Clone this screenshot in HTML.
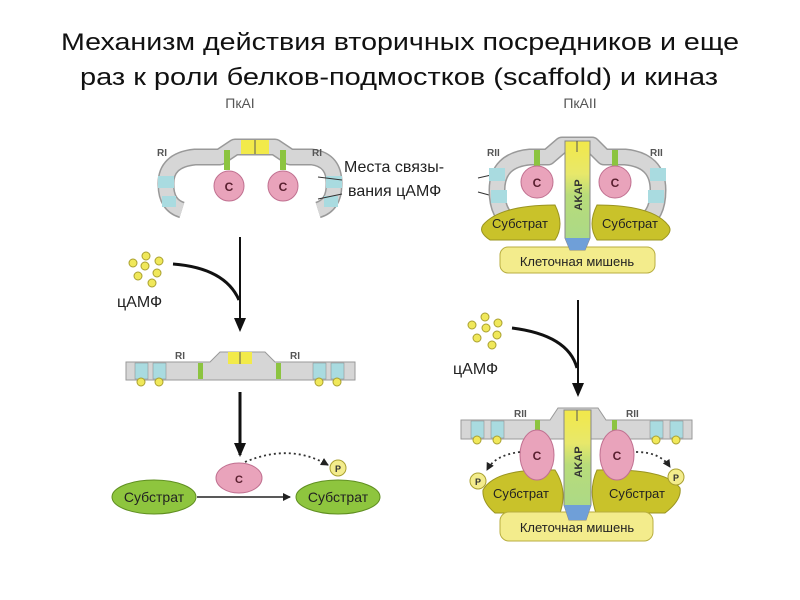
<!DOCTYPE html>
<html><head><meta charset="utf-8"><style>
html,body{margin:0;padding:0;background:#fff;}
svg{display:block;}
</style></head><body>
<svg width="800" height="600" viewBox="0 0 800 600" xmlns="http://www.w3.org/2000/svg" font-family="Liberation Sans, sans-serif">
<defs>
<marker id="ah" markerWidth="14" markerHeight="12" refX="12" refY="6" orient="auto" markerUnits="userSpaceOnUse"><path d="M0,0 L14,6 L0,12 z" fill="#111"/></marker>
<marker id="ah2" markerWidth="8" markerHeight="8" refX="7" refY="4" orient="auto" markerUnits="userSpaceOnUse"><path d="M0,0 L8,4 L0,8 z" fill="#222"/></marker>
<linearGradient id="ak" x1="0" y1="0" x2="0" y2="1"><stop offset="0" stop-color="#f2e84a"/><stop offset="0.3" stop-color="#e8e86a"/><stop offset="0.5" stop-color="#b8dc7a"/><stop offset="1" stop-color="#a8d88a"/></linearGradient>
</defs>

<text x="400" y="50" text-anchor="middle" font-size="24" textLength="678" lengthAdjust="spacingAndGlyphs" fill="#111">Механизм действия вторичных посредников и еще</text>
<text x="399" y="85" text-anchor="middle" font-size="24" textLength="638" lengthAdjust="spacingAndGlyphs" fill="#111">раз к роли белков-подмостков (scaffold)  и киназ</text>
<text x="240" y="108" text-anchor="middle" font-size="14" fill="#555">ПкАI</text>
<text x="580" y="108" text-anchor="middle" font-size="14" fill="#555">ПкАII</text>

<!-- PKA I top -->
<g>
<path d="M182,210 Q166,205 166,185 Q165,160 195,157 L220,157 L235,147 L275,147 L290,157 L312,157 Q335,160 334,185 Q334,205 318,210" fill="none" stroke="#999" stroke-width="17" stroke-linejoin="round"/>
<path d="M182,210 Q166,205 166,185 Q165,160 195,157 L220,157 L235,147 L275,147 L290,157 L312,157 Q335,160 334,185 Q334,205 318,210" fill="none" stroke="#d6d6d6" stroke-width="14" stroke-linejoin="round"/>
<rect x="158" y="176" width="16" height="12" fill="#a9dbe0"/><rect x="162" y="196" width="14" height="11" fill="#a9dbe0"/>
<rect x="326" y="176" width="16" height="12" fill="#a9dbe0"/><rect x="324" y="196" width="14" height="11" fill="#a9dbe0"/>
<rect x="241" y="140" width="28" height="14" fill="#f2ea4a"/><line x1="255" y1="140" x2="255" y2="154" stroke="#555"/>
<rect x="224" y="150" width="6" height="20" fill="#8cc440"/><rect x="280" y="150" width="6" height="20" fill="#8cc440"/>
<circle cx="229" cy="186" r="15" fill="#e9a3bb" stroke="#c07090"/><text x="229" y="191" text-anchor="middle" font-size="12" font-weight="bold" fill="#5a2030">C</text>
<circle cx="283" cy="186" r="15" fill="#e9a3bb" stroke="#c07090"/><text x="283" y="191" text-anchor="middle" font-size="12" font-weight="bold" fill="#5a2030">C</text>
<text x="157" y="156" font-size="10" font-weight="bold" fill="#555">RI</text>
<text x="312" y="156" font-size="10" font-weight="bold" fill="#555">RI</text>
</g>
<text x="344" y="172" font-size="16" fill="#222">Места связы-</text>
<text x="348" y="196" font-size="16" fill="#222">вания цАМФ</text>
<line x1="342" y1="180" x2="318" y2="177" stroke="#333"/><line x1="342" y1="194" x2="318" y2="199" stroke="#333"/>
<line x1="478" y1="178" x2="500" y2="173" stroke="#333"/><line x1="478" y1="192" x2="500" y2="198" stroke="#333"/>

<!-- PKA II top -->
<g>
<path d="M512,222 Q497,215 497,190 Q497,160 530,157 L548,157 L562,145 L592,145 L604,157 L625,157 Q658,160 658,190 Q658,215 643,222" fill="none" stroke="#999" stroke-width="17" stroke-linejoin="round"/>
<path d="M512,222 Q497,215 497,190 Q497,160 530,157 L548,157 L562,145 L592,145 L604,157 L625,157 Q658,160 658,190 Q658,215 643,222" fill="none" stroke="#d6d6d6" stroke-width="14" stroke-linejoin="round"/>
<rect x="489" y="168" width="16" height="13" fill="#a9dbe0"/><rect x="491" y="190" width="16" height="13" fill="#a9dbe0"/>
<rect x="650" y="168" width="16" height="13" fill="#a9dbe0"/><rect x="648" y="190" width="16" height="13" fill="#a9dbe0"/>
<path d="M483,225 Q500,205 555,205 Q565,225 555,240 L490,240 Q478,232 483,225 z" fill="#c9c22a" stroke="#9a9420"/>
<path d="M668,225 Q652,205 597,205 Q587,225 597,240 L662,240 Q674,232 668,225 z" fill="#c9c22a" stroke="#9a9420"/>
<rect x="500" y="247" width="155" height="26" rx="8" fill="#f3ec8c" stroke="#b8ae40"/>
<text x="577" y="266" text-anchor="middle" font-size="13" fill="#222">Клеточная мишень</text>
<path d="M565,141 L590,141 L590,238 L585,250 L570,250 L565,238 z" fill="url(#ak)" stroke="#888"/>
<path d="M565,238 L590,238 L585,250 L570,250 z" fill="#6f9fd8"/>
<line x1="577" y1="141" x2="577" y2="152" stroke="#555"/>
<text transform="translate(582,195) rotate(-90)" text-anchor="middle" font-size="11" font-weight="bold" fill="#333">AKAP</text>
<rect x="534" y="150" width="6" height="16" fill="#8cc440"/><rect x="612" y="150" width="6" height="16" fill="#8cc440"/>
<circle cx="537" cy="182" r="16" fill="#e9a3bb" stroke="#c07090"/><text x="537" y="187" text-anchor="middle" font-size="12" font-weight="bold" fill="#5a2030">C</text>
<circle cx="615" cy="182" r="16" fill="#e9a3bb" stroke="#c07090"/><text x="615" y="187" text-anchor="middle" font-size="12" font-weight="bold" fill="#5a2030">C</text>
<text x="520" y="228" text-anchor="middle" font-size="13" fill="#222">Субстрат</text>
<text x="630" y="228" text-anchor="middle" font-size="13" fill="#222">Субстрат</text>
<text x="487" y="156" font-size="10" font-weight="bold" fill="#555">RII</text>
<text x="650" y="156" font-size="10" font-weight="bold" fill="#555">RII</text>
</g>

<!-- left arrow 1 -->
<g fill="#f0e85a" stroke="#a9a030" stroke-width="1">
<circle cx="146" cy="256" r="4"/><circle cx="133" cy="263" r="4"/><circle cx="145" cy="266" r="4"/><circle cx="159" cy="261" r="4"/><circle cx="157" cy="273" r="4"/><circle cx="138" cy="276" r="4"/><circle cx="152" cy="283" r="4"/>
</g>
<text x="117" y="307" font-size="16" fill="#222">цАМФ</text>
<path d="M173,264 Q225,268 239,300" fill="none" stroke="#111" stroke-width="3"/>
<line x1="240" y1="237" x2="240" y2="330" stroke="#111" stroke-width="2" marker-end="url(#ah)"/>

<!-- left strip -->
<path d="M126,362 L210,362 L220,352 L265,352 L275,362 L355,362 L355,380 L126,380 z" fill="#d6d6d6" stroke="#999"/>
<rect x="135" y="363" width="13" height="16" fill="#a9dbe0" stroke="#888" stroke-width="0.5"/><rect x="153" y="363" width="13" height="16" fill="#a9dbe0" stroke="#888" stroke-width="0.5"/>
<rect x="313" y="363" width="13" height="16" fill="#a9dbe0" stroke="#888" stroke-width="0.5"/><rect x="331" y="363" width="13" height="16" fill="#a9dbe0" stroke="#888" stroke-width="0.5"/>
<rect x="228" y="352" width="24" height="12" fill="#f2ea4a"/><line x1="240" y1="352" x2="240" y2="364" stroke="#555"/>
<rect x="198" y="363" width="5" height="16" fill="#8cc440"/><rect x="276" y="363" width="5" height="16" fill="#8cc440"/>
<g fill="#f0e85a" stroke="#a9a030"><circle cx="141" cy="382" r="4"/><circle cx="159" cy="382" r="4"/><circle cx="319" cy="382" r="4"/><circle cx="337" cy="382" r="4"/></g>
<text x="175" y="359" font-size="10" font-weight="bold" fill="#555">RI</text>
<text x="290" y="359" font-size="10" font-weight="bold" fill="#555">RI</text>
<line x1="240" y1="392" x2="240" y2="455" stroke="#111" stroke-width="3" marker-end="url(#ah)"/>

<!-- bottom left -->
<ellipse cx="154" cy="497" rx="42" ry="17" fill="#8ec53e" stroke="#5f8e20"/>
<text x="154" y="502" text-anchor="middle" font-size="14" fill="#222">Субстрат</text>
<ellipse cx="338" cy="497" rx="42" ry="17" fill="#8ec53e" stroke="#5f8e20"/>
<text x="338" y="502" text-anchor="middle" font-size="14" fill="#222">Субстрат</text>
<ellipse cx="239" cy="478" rx="23" ry="15" fill="#e9a3bb" stroke="#c07090"/>
<text x="239" y="483" text-anchor="middle" font-size="11" font-weight="bold" fill="#5a2030">C</text>
<circle cx="338" cy="468" r="8" fill="#f3ec8c" stroke="#a9a030"/><text x="338" y="472" text-anchor="middle" font-size="9" font-weight="bold" fill="#333">P</text>
<line x1="197" y1="497" x2="290" y2="497" stroke="#222" stroke-width="1.5" marker-end="url(#ah2)"/>
<path d="M245,462 Q290,443 328,465" fill="none" stroke="#333" stroke-width="1.8" stroke-dasharray="2,3" marker-end="url(#ah2)"/>

<!-- right arrow -->
<g fill="#f0e85a" stroke="#a9a030">
<circle cx="485" cy="317" r="4"/><circle cx="472" cy="325" r="4"/><circle cx="486" cy="328" r="4"/><circle cx="498" cy="323" r="4"/><circle cx="497" cy="335" r="4"/><circle cx="477" cy="338" r="4"/><circle cx="492" cy="345" r="4"/>
</g>
<text x="453" y="374" font-size="16" fill="#222">цАМФ</text>
<path d="M512,328 Q568,335 577,368" fill="none" stroke="#111" stroke-width="3"/>
<line x1="578" y1="300" x2="578" y2="395" stroke="#111" stroke-width="2" marker-end="url(#ah)"/>

<!-- bottom right -->
<path d="M461,420 L550,420 L558,408 L598,408 L606,420 L692,420 L692,439 L461,439 z" fill="#d6d6d6" stroke="#999"/>
<rect x="471" y="421" width="13" height="17" fill="#a9dbe0" stroke="#888" stroke-width="0.5"/><rect x="491" y="421" width="13" height="17" fill="#a9dbe0" stroke="#888" stroke-width="0.5"/>
<rect x="650" y="421" width="13" height="17" fill="#a9dbe0" stroke="#888" stroke-width="0.5"/><rect x="670" y="421" width="13" height="17" fill="#a9dbe0" stroke="#888" stroke-width="0.5"/>
<g fill="#f0e85a" stroke="#a9a030"><circle cx="477" cy="440" r="4"/><circle cx="497" cy="440" r="4"/><circle cx="656" cy="440" r="4"/><circle cx="676" cy="440" r="4"/></g>
<text x="514" y="417" font-size="10" font-weight="bold" fill="#555">RII</text>
<text x="626" y="417" font-size="10" font-weight="bold" fill="#555">RII</text>
<rect x="535" y="420" width="5" height="12" fill="#8cc440"/><rect x="612" y="420" width="5" height="12" fill="#8cc440"/>
<path d="M483,490 Q495,468 555,470 Q568,490 560,513 L495,513 Q482,502 483,490 z" fill="#c9c22a" stroke="#9a9420"/>
<path d="M680,488 Q666,468 597,470 Q588,490 596,513 L665,513 Q682,500 680,488 z" fill="#c9c22a" stroke="#9a9420"/>
<rect x="500" y="512" width="153" height="29" rx="9" fill="#f3ec8c" stroke="#b8ae40"/>
<text x="577" y="532" text-anchor="middle" font-size="13" fill="#222">Клеточная мишень</text>
<path d="M564,410 L591,410 L591,505 L586,520 L569,520 L564,505 z" fill="url(#ak)" stroke="#888"/>
<path d="M564,505 L591,505 L586,520 L569,520 z" fill="#6f9fd8"/>
<line x1="577" y1="410" x2="577" y2="421" stroke="#555"/>
<text transform="translate(582,462) rotate(-90)" text-anchor="middle" font-size="11" font-weight="bold" fill="#333">AKAP</text>
<ellipse cx="537" cy="455" rx="17" ry="25" fill="#e9a3bb" stroke="#c07090"/><text x="537" y="460" text-anchor="middle" font-size="12" font-weight="bold" fill="#5a2030">C</text>
<ellipse cx="617" cy="455" rx="17" ry="25" fill="#e9a3bb" stroke="#c07090"/><text x="617" y="460" text-anchor="middle" font-size="12" font-weight="bold" fill="#5a2030">C</text>
<text x="521" y="498" text-anchor="middle" font-size="13" fill="#222">Субстрат</text>
<text x="637" y="498" text-anchor="middle" font-size="13" fill="#222">Субстрат</text>
<circle cx="478" cy="481" r="8" fill="#f3ec8c" stroke="#a9a030"/><text x="478" y="485" text-anchor="middle" font-size="9" font-weight="bold" fill="#333">P</text>
<circle cx="676" cy="477" r="8" fill="#f3ec8c" stroke="#a9a030"/><text x="676" y="481" text-anchor="middle" font-size="9" font-weight="bold" fill="#333">P</text>
<path d="M520,452 Q495,455 487,470" fill="none" stroke="#333" stroke-width="1.8" stroke-dasharray="2,3" marker-end="url(#ah2)"/>
<path d="M636,452 Q660,452 670,467" fill="none" stroke="#333" stroke-width="1.8" stroke-dasharray="2,3" marker-end="url(#ah2)"/>
</svg>
</body></html>
